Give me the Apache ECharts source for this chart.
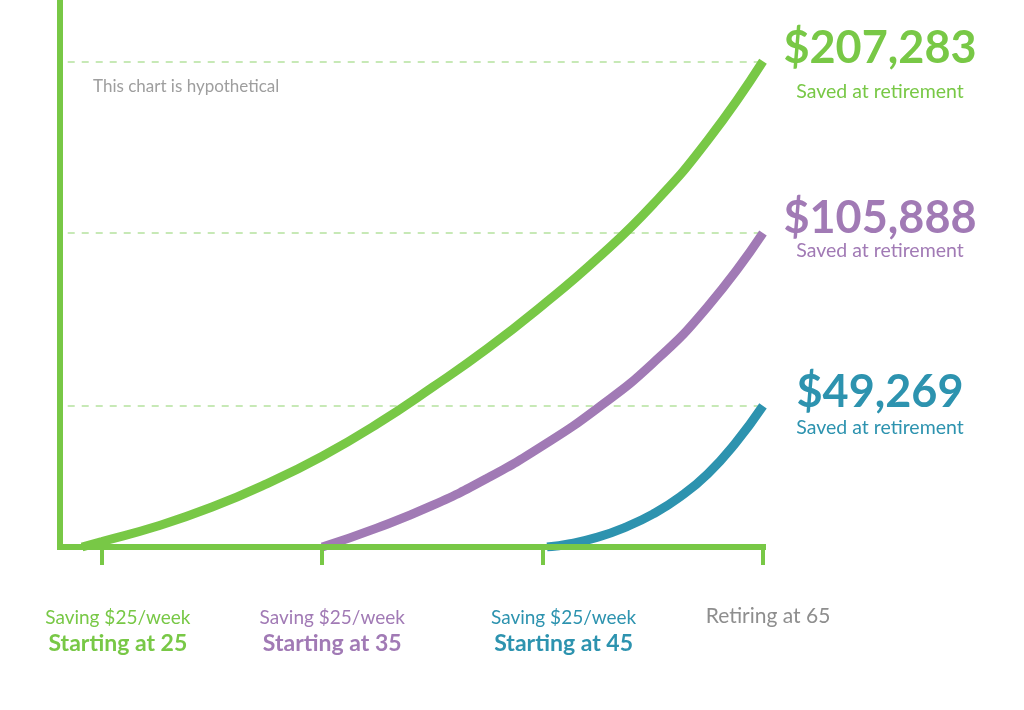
<!DOCTYPE html>
<html><head><meta charset="utf-8">
<script src="https://cdn.jsdelivr.net/npm/echarts@6/dist/echarts.min.js"></script>
<style>html,body{margin:0;padding:0;background:#fff}#c{width:1024px;height:710px}</style>
</head><body><div id="c"></div>
<script>
// ---- data (hypothetical chart; x = position on the timeline, y = relative height) ----
const tickPositions = [0, 1, 2, 3];
const tickLinesTop = ['Saving $25/week', 'Saving $25/week', 'Saving $25/week', ''];
const tickLinesBottom = ['Starting at 25', 'Starting at 35', 'Starting at 45', 'Retiring at 65'];

const start25X = [-0.09, 0, 0.25, 0.5, 0.75, 1, 1.25, 1.5, 1.75, 2, 2.25, 2.5, 2.75, 3];
const start25Y = [0, 1.0, 3.8, 7.3, 11.6, 16.6, 22.5, 29.2, 36.3, 44.2, 52.8, 62.6, 74.4, 88.8];

const start35X = [1, 1.25, 1.5, 1.75, 2, 2.25, 2.5, 2.75, 3];
const start35Y = [0, 3.5, 7.6, 12.6, 18.5, 25.4, 33.6, 44.0, 57.4];

const start45X = [2.02, 2.125, 2.25, 2.375, 2.5, 2.625, 2.75, 2.875, 3];
const start45Y = [0, 0.6, 1.8, 3.6, 6.0, 9.2, 13.4, 19.0, 25.8];

const totals = ['$207,283', '$105,888', '$49,269'];
const totalCaption = 'Saved at retirement';
const note = 'This chart is hypothetical';

// ---- styles ----
const FONT = 'Lato, "Open Sans", sans-serif';
const GREEN = '#78c846', PURPLE = '#a17ab5', BLUE = '#2d93af', GREY = '#8e8e8e';
const tickColors = [GREEN, PURPLE, BLUE, GREY];
const labelShift = [32, 20, 42, 10];
const endLH = [[60, 26], [36, 30], [44, 26]];

const rich = {};
tickPositions.forEach((p, i) => {
  rich['t' + i] = {fontFamily: FONT, fontSize: 19, color: tickColors[i], lineHeight: 25, padding: [0, 0, 0, labelShift[i]]};
  rich['b' + i] = (i === 3)
    ? {fontFamily: FONT, fontSize: 21, color: GREY, lineHeight: 22, padding: [0, 0, 0, labelShift[i]]}
    : {fontFamily: FONT, fontSize: 23, fontWeight: 'bold', color: tickColors[i], lineHeight: 27, padding: [0, 0, 0, labelShift[i]]};
});

function pairs(xs, ys) { return xs.map((x, i) => [x, ys[i]]); }

function makeSeries(name, xs, ys, color, idx) {
  const endVal = ys[ys.length - 1];
  return {
    name, type: 'line', data: pairs(xs, ys), smooth: 0.5, showSymbol: false, symbol: 'none',
    lineStyle: {color, width: 9}, z: 2, clip: true,
    endLabel: {
      show: true, distance: 117, align: 'center', verticalAlign: 'middle',
      formatter: () => '{v|' + totals[idx] + '}\n{s|' + totalCaption + '}',
      rich: {
        v: {fontFamily: FONT, fontSize: 45, fontWeight: 'bold', color, lineHeight: endLH[idx][0]},
        s: {fontFamily: FONT, fontSize: 19.5, color, lineHeight: endLH[idx][1]}
      }
    },
    markLine: {
      silent: true, symbol: 'none', z: 1, animation: false,
      label: {show: false},
      lineStyle: {color: '#b5e29e', width: 1.5, type: [7, 7]},
      data: [[{coord: [-0.155, endVal]}, {coord: [2.99, endVal]}]]
    }
  };
}

const chart = echarts.init(document.getElementById('c'));
chart.setOption({
  animation: false,
  title: {text: note, left: 93, top: 77, padding: 0, textStyle: {fontFamily: FONT, fontSize: 17, fontWeight: 'normal', color: '#9e9e9e', lineHeight: 20}},
  grid: {left: 60, right: 261, top: 0, bottom: 163, containLabel: false, outerBoundsMode: 'none'},
  xAxis: {
    type: 'value', min: -0.19, max: 3, z: 10,
    splitLine: {show: false},
    axisLine: {show: true, onZero: false, lineStyle: {color: GREEN, width: 6, cap: 'square'}},
    axisTick: {show: true, customValues: tickPositions, length: 18, lineStyle: {color: GREEN, width: 4}},
    axisLabel: {
      show: true, customValues: tickPositions, margin: 58, verticalAlign: 'top', align: 'center',
      formatter: (v) => {
        const i = tickPositions.indexOf(v);
        if (i < 0) return '';
        return (tickLinesTop[i] ? '{t' + i + '|' + tickLinesTop[i] + '}\n' : '') + '{b' + i + '|' + tickLinesBottom[i] + '}';
      },
      rich
    }
  },
  yAxis: {
    type: 'value', min: 0, max: 100, z: 10,
    splitLine: {show: false},
    axisLine: {show: true, onZero: false, lineStyle: {color: GREEN, width: 6, cap: 'square'}},
    axisTick: {show: false}, axisLabel: {show: false}
  },
  series: [
    makeSeries('Starting at 25', start25X, start25Y, GREEN, 0),
    makeSeries('Starting at 35', start35X, start35Y, PURPLE, 1),
    makeSeries('Starting at 45', start45X, start45Y, BLUE, 2)
  ]
});
</script></body></html>
